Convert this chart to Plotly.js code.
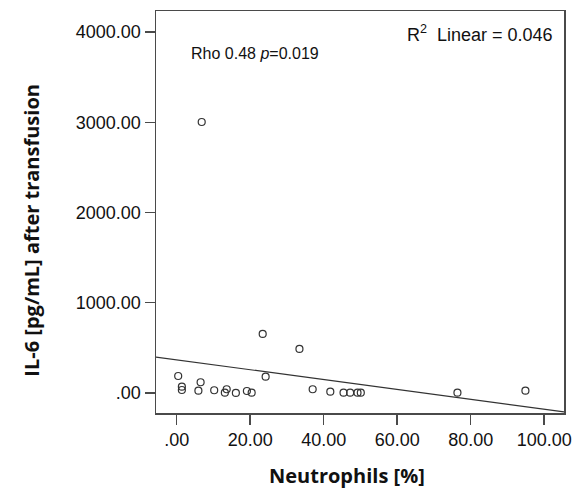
<!DOCTYPE html>
<html>
<head>
<meta charset="utf-8">
<script src="https://cdn.plot.ly/plotly-3.0.1.min.js"></script>
<style>html,body{margin:0;padding:0;background:#fff;}#chart{width:578px;height:493px;}</style>
</head>
<body>
<div id="chart"></div>
<script>
// Neutrophils [%]
const neutrophils = [0.4, 1.4, 1.4, 6.5, 5.9, 10.2, 13.1, 13.6, 16.1, 19.1, 20.4, 23.4, 24.2, 33.4, 37.0, 41.8, 45.4, 47.2, 49.2, 50.1, 76.4, 94.9, 6.8];
// IL-6 [pg/mL] after transfusion
const il6 = [188, 70, 33, 119, 25, 30, 3, 41, 0, 22, 3, 654, 181, 488, 41, 14, 3, 3, 3, 3, 3, 25, 3003];

const xTickVals = [0, 20, 40, 60, 80, 100];
const xTickText = [".00", "20.00", "40.00", "60.00", "80.00", "100.00"];
const yTickVals = [0, 1000, 2000, 3000, 4000];
const yTickText = [".00", "1000.00", "2000.00", "3000.00", "4000.00"];

const xRange = [-5.64, 105.4];
const yRange = [-222, 4233];

// least-squares linear fit from the data
const n = neutrophils.length;
const mx = neutrophils.reduce((a, b) => a + b, 0) / n;
const my = il6.reduce((a, b) => a + b, 0) / n;
let sxy = 0, sxx = 0;
for (let i = 0; i < n; i++) {
  sxy += (neutrophils[i] - mx) * (il6[i] - my);
  sxx += (neutrophils[i] - mx) * (neutrophils[i] - mx);
}
const slope = sxy / sxx;
const intercept = my - slope * mx;
const fitX = xRange.slice();
const fitY = fitX.map(x => intercept + slope * x);

const ink = '#333333';
const axisFont = {family: 'Liberation Sans, Arial, sans-serif', size: 18, color: '#111'};
const titleFont = {family: 'Open Sans, Liberation Sans, sans-serif', size: 20, color: '#111'};

const traces = [
  {
    x: fitX, y: fitY, type: 'scatter', mode: 'lines',
    line: {color: ink, width: 1.2}, hoverinfo: 'skip', cliponaxis: true
  },
  {
    x: neutrophils, y: il6, type: 'scatter', mode: 'markers',
    marker: {symbol: 'circle-open', size: 7, color: ink, line: {width: 1.2, color: ink}}
  }
];

const layout = {
  width: 578, height: 493,
  margin: {l: 156, r: 14, t: 11, b: 80},
  paper_bgcolor: '#fff', plot_bgcolor: '#fff',
  showlegend: false,
  xaxis: {
    range: xRange, tickvals: xTickVals, ticktext: xTickText,
    showgrid: false, zeroline: false,
    showline: true, mirror: true, linecolor: '#4a4a4a', linewidth: 1.5,
    ticks: 'outside', ticklen: 10, tickwidth: 1.5, tickcolor: '#4a4a4a',
    tickfont: axisFont
  },
  yaxis: {
    range: yRange, tickvals: yTickVals, ticktext: yTickText,
    showgrid: false, zeroline: false,
    showline: true, mirror: true, linecolor: '#4a4a4a', linewidth: 1.5,
    ticks: 'outside', ticklen: 10, tickwidth: 1.5, tickcolor: '#4a4a4a',
    tickfont: axisFont
  },
  annotations: [
    {
      xref: 'paper', yref: 'paper', x: 0.978, y: 0.943, xanchor: 'right', yanchor: 'middle',
      text: 'R<sup>2</sup>&nbsp; Linear = 0.046', showarrow: false,
      font: {family: 'Liberation Sans, Arial, sans-serif', size: 18, color: '#111'}
    },
    {
      xref: 'paper', yref: 'paper', x: 0.081, y: 0.895, xanchor: 'left', yanchor: 'middle',
      text: 'Rho 0.48 <i>p</i>=0.019', showarrow: false,
      font: {family: 'Liberation Sans, Arial, sans-serif', size: 16, color: '#111'}
    },
    {
      xref: 'paper', yref: 'paper', x: 0.468, y: -0.155, xanchor: 'center', yanchor: 'middle',
      text: '<b>Neutrophils [%]</b>', showarrow: false,
      font: titleFont
    },
    {
      xref: 'paper', yref: 'paper', x: -0.305, y: 0.455, xanchor: 'center', yanchor: 'middle',
      text: '<b>IL-6 [pg/mL] after transfusion</b>', showarrow: false, textangle: -90,
      font: titleFont
    }
  ]
};

Plotly.newPlot('chart', traces, layout, {staticPlot: true, displayModeBar: false});
</script>
</body>
</html>
